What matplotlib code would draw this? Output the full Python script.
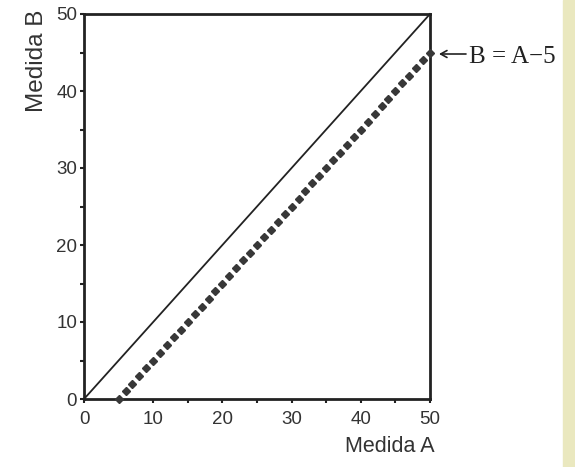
import matplotlib
matplotlib.use("Agg")
import matplotlib.pyplot as plt

# data
medida_a = list(range(5, 51))
medida_b = [a - 5 for a in medida_a]
ident_x = [0, 50]
ident_y = [0, 50]
ticks = [0, 10, 20, 30, 40, 50]
minor_ticks = [5, 15, 25, 35, 45]

W, H = 575, 467
sans = "Liberation Sans"

fig = plt.figure(figsize=(W / 100, H / 100), dpi=100)
fig.patch.set_facecolor("white")
# pale strip on the right edge
fig.patches.append(plt.Rectangle((563 / W, 0), 12 / W, 1, transform=fig.transFigure,
                                 color="#eae8bf", zorder=0))

ax = fig.add_axes([84 / W, 68 / H, 346 / W, 385 / H])
ax.plot(ident_x, ident_y, color="#222222", lw=1.3, clip_on=False)
ax.plot(medida_a, medida_b, linestyle="none", marker="D", ms=4.4, color="#383838",
        mec="#383838", clip_on=False, zorder=3)

ax.set_xlim(0, 50)
ax.set_ylim(0, 50)
ax.set_xticks(ticks)
ax.set_yticks(ticks)
ax.set_xticks(minor_ticks, minor=True)
ax.set_yticks(minor_ticks, minor=True)
for s in ax.spines.values():
    s.set_linewidth(2)
    s.set_color("#222222")
ax.tick_params(which="both", direction="out", length=3, width=1.5, color="#222222",
               labelsize=13.5, labelcolor="#333333", pad=2)
ax.tick_params(axis="x", pad=6)
for lab in ax.get_xticklabels() + ax.get_yticklabels():
    lab.set_family(sans)

ax.set_xlabel("Medida A", fontsize=15.5, family=sans, color="#333333", ha="right")
ax.xaxis.set_label_coords(1 + 5 / 346, -37 / 385)
ax.set_ylabel("Medida B", fontsize=17.5, family=sans, color="#333333", ha="right")
ax.yaxis.set_label_coords(-36 / 346, 1 + 4 / 385)

# arrow + label for the dotted line
ax.annotate("", xy=(439 / W, (H - 54) / H), xytext=(466 / W, (H - 54) / H),
            xycoords="figure fraction", textcoords="figure fraction",
            arrowprops=dict(arrowstyle="->,head_length=0.45,head_width=0.25",
                            color="#222222", lw=1.2, shrinkA=0, shrinkB=0))
fig.text(469 / W, (H - 63) / H, "B = A\u22125", fontsize=18, family="Liberation Serif",
         color="#222222", va="baseline", ha="left")

fig.savefig("out.png", dpi=100)
